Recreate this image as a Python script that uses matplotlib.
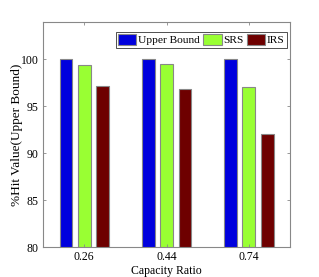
import numpy as np
import matplotlib
matplotlib.use('Agg')
import matplotlib.pyplot as plt

font = {'family': 'Liberation Serif', 'size': 8}
matplotlib.rc('font', **font)

# data
ratios = ['0.26', '0.44', '0.74']
series = ['Upper Bound', 'SRS', 'IRS']
upper = [100.0, 100.0, 100.0]
srs = [99.36, 99.5, 97.1]
irs = [97.2, 96.9, 92.1]
colors = ['#0000dd', '#99ff33', '#6e0000']

fig = plt.figure(figsize=(3.19, 2.77), dpi=100)
ax = fig.add_axes([0.135, 0.108, 0.774, 0.813])

x = np.arange(1, len(ratios) + 1)
width = 0.154
step = 0.223
for i, (vals, name) in enumerate(zip([upper, srs, irs], series)):
    ax.bar(x + (i - 1) * step, vals, width, bottom=0, color=colors[i],
           edgecolor='#888888', linewidth=0.8, label=name)

ax.set_xlim(0.5, 3.5)
ax.set_ylim(80, 104)
ax.set_xticks(x)
ax.set_xticklabels(ratios)
ax.set_yticks([80, 85, 90, 95, 100])
ax.tick_params(direction='in', length=2.5, width=0.6, color='#888888',
               top=True, right=True, labelsize=8.5, pad=3)
for s in ax.spines.values():
    s.set_color('#888888')
    s.set_linewidth(0.8)

ax.set_xlabel('Capacity Ratio', fontsize=8.5, labelpad=1)
ax.set_ylabel('%Hit Value(Upper Bound)', fontsize=9.5)
ax.yaxis.set_label_coords(-0.083, 0.5)

leg = ax.legend(loc='upper right', bbox_to_anchor=(0.988, 0.956), ncol=3,
                fontsize=8.2, frameon=True, fancybox=False, edgecolor='black',
                handlelength=1.6, handleheight=1.1, handletextpad=0.15,
                columnspacing=0.3, borderpad=0.2, borderaxespad=0)
leg.get_frame().set_linewidth(0.6)

plt.savefig('out.png', dpi=100)
